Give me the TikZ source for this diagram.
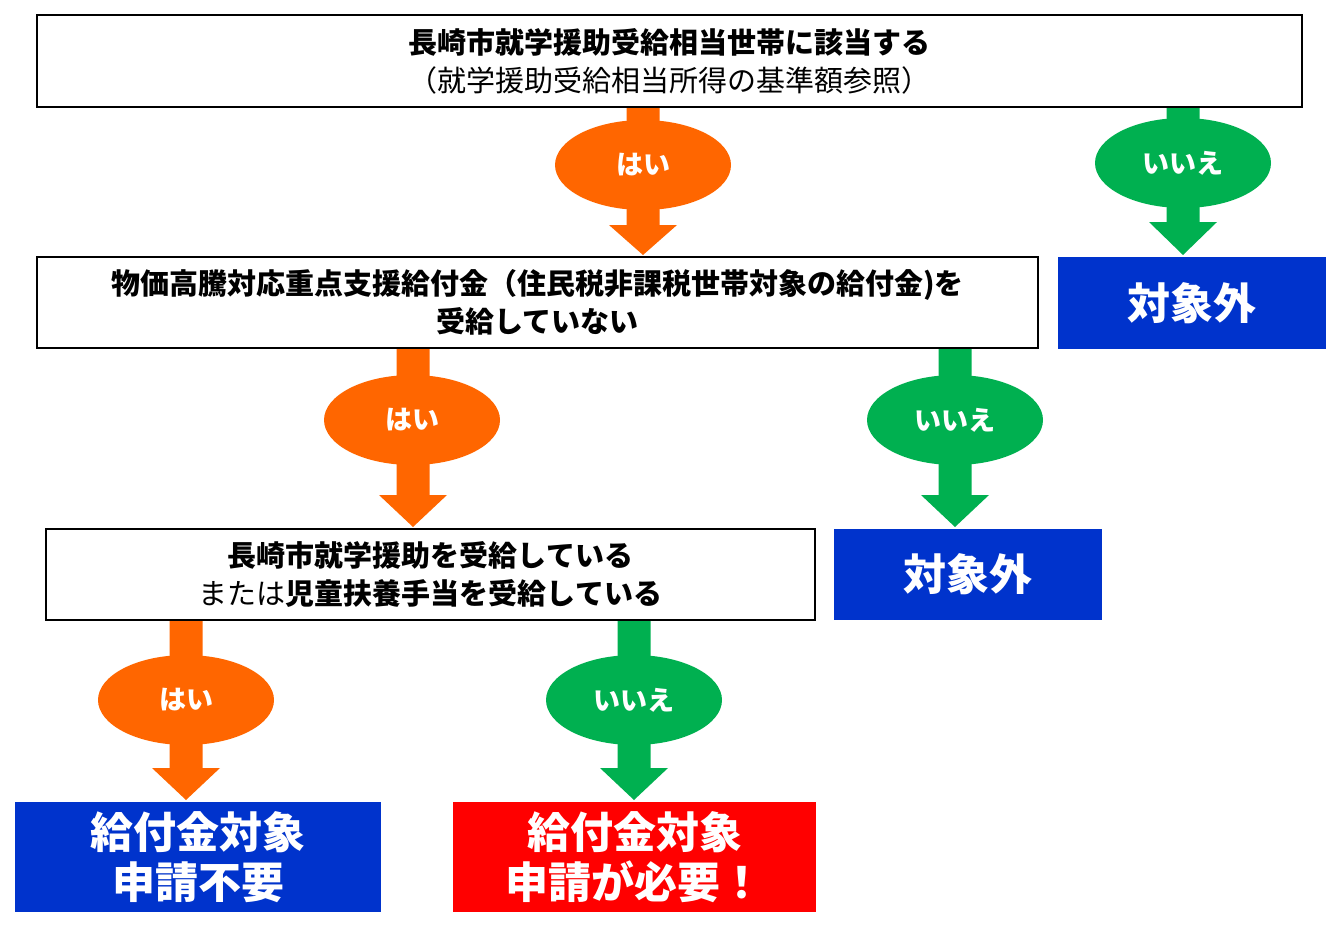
\documentclass[tikz,border=0pt]{standalone}
\usepackage{fontspec}
\setmainfont{Noto Sans CJK JP}
\usetikzlibrary{shapes.geometric}
\definecolor{org}{HTML}{FF6600}
\definecolor{grn}{HTML}{00B050}
\definecolor{blu}{HTML}{0033CC}
\definecolor{rd}{HTML}{FF0000}
\newcommand{\myarrow}[5]{% x, ytop, yneck, ybot, color
  \fill[#5] (#1-16.5,#2) -- (#1+16.5,#2) -- (#1+16.5,#3) -- (#1+34,#3) -- (#1,#4) -- (#1-34,#3) -- (#1-16.5,#3) -- cycle;}
\tikzset{
  qbox/.style={draw=black,line width=1.2pt,fill=white,inner sep=0pt,align=center,font=\fontsize{29}{38}\selectfont},
  rbox/.style={inner sep=0pt,align=center,text=white,font=\fontsize{43}{50}\selectfont\bfseries},
  lab/.style={ellipse,minimum width=176pt,minimum height=90pt,inner sep=0pt,text=white,font=\fontsize{27}{30}\selectfont\bfseries}
}
\begin{document}
\begin{tikzpicture}[x=1pt,y=-1pt]
\useasboundingbox (0,0) rectangle (1336,924);
% arrows
\myarrow{643}{107}{225}{255}{org}
\myarrow{1183}{107}{222}{255}{grn}
\myarrow{413}{348}{495}{527}{org}
\myarrow{955}{348}{495}{527}{grn}
\myarrow{186}{620}{768}{800}{org}
\myarrow{634}{620}{768}{800}{grn}
\node[lab,fill=org] (l1) at (643,165) {はい};
\node[lab,fill=grn] (l2) at (1183,163) {いいえ};
\node[lab,fill=org] (l3) at (412,420) {はい};
\node[lab,fill=grn] (l4) at (955,420) {いいえ};
\node[lab,fill=org] (l5) at (186,700) {はい};
\node[lab,fill=grn] (l6) at (634,700) {いいえ};
% question boxes
\node[qbox,minimum width=1265pt,minimum height=92pt] (q1) at (669.5,61)
  {\bfseries 長崎市就学援助受給相当世帯に該当する\\（就学援助受給相当所得の基準額参照）};
\node[qbox,minimum width=1001pt,minimum height=91pt] (q2) at (537.5,302.5)
  {\bfseries 物価高騰対応重点支援給付金（住民税非課税世帯対象の給付金)を\\\bfseries 受給していない};
\node[qbox,minimum width=769pt,minimum height=91pt] (q3) at (430.5,574.5)
  {\bfseries 長崎市就学援助を受給している\\または{\bfseries 児童扶養手当を受給している}};
% result boxes
\node[rbox,fill=blu,minimum width=268pt,minimum height=92pt] (r1) at (1192,303) {対象外};
\node[rbox,fill=blu,minimum width=268pt,minimum height=91pt] (r2) at (968,574.5) {対象外};
\node[rbox,fill=blu,minimum width=366pt,minimum height=110pt] (r3) at (198,857) {給付金対象\\申請不要};
\node[rbox,fill=rd,minimum width=363pt,minimum height=110pt] (r4) at (634.5,857) {給付金対象\\申請が必要！};
\end{tikzpicture}
\end{document}
